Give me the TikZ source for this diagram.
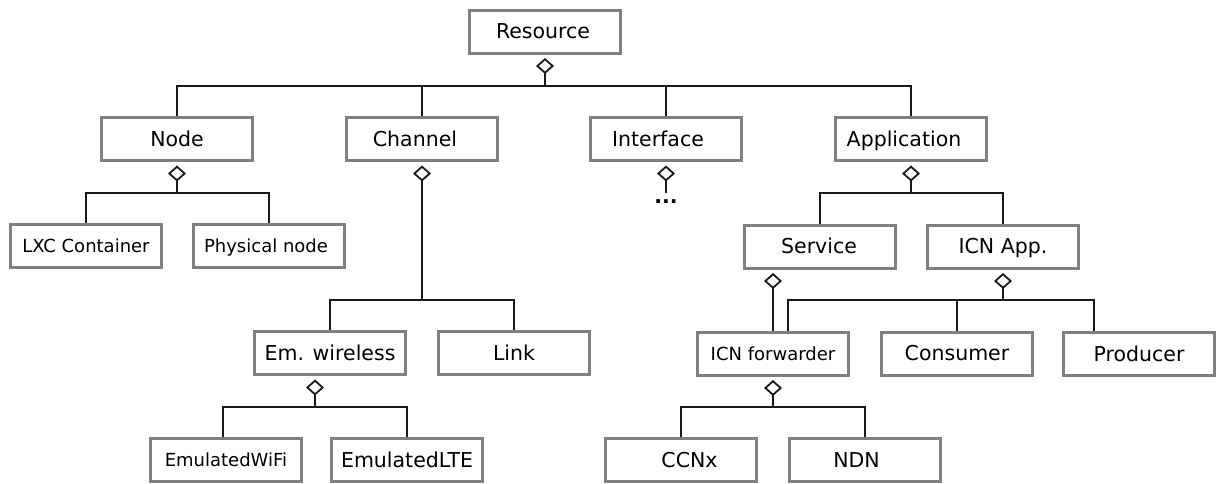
\documentclass[tikz,border=0pt]{standalone}
\usepackage{fontspec}
\setmainfont{DejaVu Sans}
\usetikzlibrary{arrows.meta,calc,backgrounds}
\definecolor{boxgray}{RGB}{128,128,128}
\newcommand{\tsh}[1]{\hspace*{#1pt}}
\tikzset{
  box/.style={draw=boxgray, line width=3pt, fill=white, minimum width=151pt,
    minimum height=43pt, inner sep=0pt, font=\fontsize{20.5}{24}\selectfont,
    text height=14.9pt, text depth=0pt},
  sbox/.style={box, font=\fontsize{18}{22}\selectfont, text height=13.1pt},
  conn/.style={line width=1.8pt, black!90},
  agg/.style={conn, {Diamond[open, length=16pt, width=18pt]}-},
}
\begin{document}
\begin{tikzpicture}[x=1pt, y=-1pt]
\useasboundingbox (0,0) rectangle (1217,483);
% boxes
\node[box] (res) at (545,31.5) {\tsh{-4}Resource};
\node[box] (node) at (177,139) {Node};
\node[box] (chan) at (422,139) {\tsh{-14}Channel};
\node[box] (intf) at (666,139) {\tsh{-16}Interface};
\node[box] (app) at (911,139) {\tsh{-14}Application};
\node[sbox] (lxc) at (86,246) {LXC Container};
\node[sbox] (phys) at (269,246) {\tsh{-6}Physical node};
\node[box] (serv) at (820,246.5) {\tsh{-2}Service};
\node[box] (icnapp) at (1003,246.5) {ICN App.};
\node[box] (emw) at (330,353) {Em. wireless};
\node[box] (link) at (514,353) {Link};
\node[sbox] (fwd) at (773,353.5) {ICN forwarder};
\node[box] (cons) at (957,353.5) {Consumer};
\node[box] (prod) at (1139,354) {Producer};
\node[sbox] (wifi) at (226,460) {EmulatedWiFi};
\node[box] (lte) at (407,460) {EmulatedLTE};
\node[box] (ccnx) at (681,460) {\tsh{17}CCNx};
\node[box] (ndn) at (865,460) {\tsh{-17}NDN};
\node[anchor=base, inner sep=0pt, font=\fontsize{20.5}{24}\selectfont\bfseries] (dots) at (666,203) {...};
% connectors
\begin{scope}[on background layer]
\coordinate (b0) at (545,86);
\draw[agg] ([yshift=-3.5pt]res.south) -- (b0);
\draw[conn] (node.north) |- (b0) -| (app.north);
\draw[conn] (chan.north) -- (chan.north |- b0);
\draw[conn] (intf.north) -- (intf.north |- b0);
\coordinate (b1) at (177,193);
\draw[agg] ([yshift=-3.5pt]node.south) -- (b1);
\draw[conn] (lxc.north) |- (b1) -| (phys.north);
\coordinate (b2) at (422,300);
\draw[agg] ([yshift=-3.5pt]chan.south) -- (b2);
\draw[conn] (emw.north) |- (b2) -| (link.north);
\coordinate (ie) at (666,193);
\draw[agg] ([yshift=-3.5pt]intf.south) -- (ie);
\coordinate (b3) at (911,193);
\draw[agg] ([yshift=-3.5pt]app.south) -- (b3);
\draw[conn] (serv.north) |- (b3) -| (icnapp.north);
\draw[agg] ($(fwd.north |- serv.south)+(0,3.5)$) -- (fwd.north);
\coordinate (b4) at (1003,300);
\draw[agg] ([yshift=-3.5pt]icnapp.south) -- (b4);
\draw[conn] ([xshift=15pt]fwd.north) |- (b4) -| ([xshift=-45pt]prod.north);
\draw[conn] (cons.north) -- (cons.north |- b4);
\coordinate (b5) at (315,407);
\draw[agg] ([xshift=-15pt,yshift=-3.5pt]emw.south) -- (b5);
\draw[conn] ([xshift=-3pt]wifi.north) |- (b5) -| (lte.north);
\coordinate (b6) at (773,407);
\draw[agg] ([yshift=-3.5pt]fwd.south) -- (b6);
\draw[conn] (ccnx.north) |- (b6) -| (ndn.north);
\end{scope}
\end{tikzpicture}
\end{document}
